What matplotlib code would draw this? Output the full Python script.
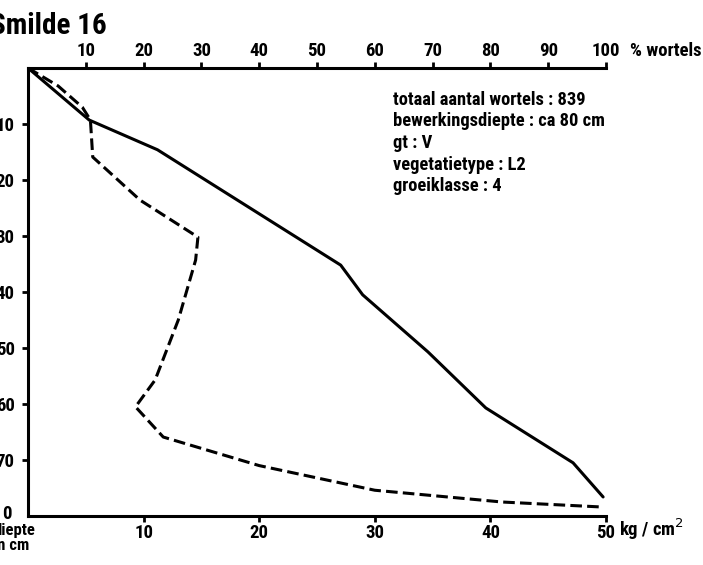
import matplotlib
matplotlib.use("Agg")
import matplotlib.pyplot as plt

plt.rcParams['font.family'] = ['Roboto Condensed', 'DejaVu Sans']

# cumulatief percentage wortels (bovenste as) tegen diepte
wortels_pct = [0, 10.6, 22.4, 54.1, 57.9, 69.2, 79.2, 94.3, 99.5]
wortels_diepte = [0, 9.3, 14.6, 35.2, 40.5, 50.7, 60.7, 70.5, 76.6]

# indringingsweerstand in kg/cm2 (onderste as) tegen diepte
weerstand_kg = [0, 2.6, 4.7, 5.4, 5.6, 9.7, 14.7, 14.5, 13.0, 11.0, 9.3,
                11.7, 20.0, 30.0, 41.0, 49.7]
weerstand_diepte = [0, 3.2, 7.0, 9.3, 15.9, 23.6, 30.2, 34.3, 45.0, 55.7, 60.5,
                    65.9, 71.0, 75.4, 77.5, 78.4]

kg_ticks = [10, 20, 30, 40, 50]
pct_ticks = [10, 20, 30, 40, 50, 60, 70, 80, 90, 100]
diepte_ticks = [10, 20, 30, 40, 50, 60, 70]

info = ["totaal aantal wortels : 839",
        "bewerkingsdiepte : ca 80 cm",
        "gt : V",
        "vegetatietype : L2",
        "groeiklasse : 4"]

W, H = 703, 565
fig = plt.figure(figsize=(W / 100, H / 100), dpi=100)
ax = fig.add_axes([28 / W, 49 / H, 578 / W, 448 / H])

ax.plot([p / 2 for p in wortels_pct], wortels_diepte, color='black', lw=2.2,
        solid_joinstyle='round', solid_capstyle='round')
ax.plot(weerstand_kg, weerstand_diepte, color='black', lw=2.2,
        dashes=(3.8, 1.7), dash_capstyle='butt')

ax.set_xlim(0, 50)
ax.set_ylim(80, 0)

for side in ('left', 'bottom', 'top'):
    ax.spines[side].set_linewidth(2.2)
ax.spines['right'].set_visible(False)

lbl = dict(fontsize=13.5, fontweight='bold')
ax.set_xticks(kg_ticks)
ax.set_xticklabels([str(t) for t in kg_ticks], **lbl)
ax.set_yticks(diepte_ticks)
ax.set_yticklabels([str(t) for t in diepte_ticks], **lbl)
ax.tick_params(axis='x', direction='out', length=4.5, width=2, pad=1.5)
ax.tick_params(axis='y', direction='out', length=4.5, width=2, pad=5)

top = ax.secondary_xaxis('top', functions=(lambda x: 2 * x, lambda x: x / 2))
top.set_xticks(pct_ticks)
top.set_xticklabels([str(t) for t in pct_ticks], **lbl)
top.tick_params(direction='out', length=4.5, width=2, pad=1.5)
top.spines['top'].set_visible(False)

# as-eenheden en hoeklabels
fig.text(630 / W, 1 - 51 / H, "% wortels", ha='left', va='center', **lbl)
fig.text(619 / W, 1 - 529 / H, "kg / cm$^2$", ha='left', va='center', **lbl)
fig.text(12 / W, 1 - 514 / H, "0", ha='right', va='center', **lbl)
fig.text(-7 / W, 1 - 538 / H, "diepte\nin cm", fontsize=12, fontweight='bold',
         ha='left', va='center', linespacing=0.95)

fig.text(-10 / W, 1 - 26 / H, "Smilde 16", fontsize=21, fontweight='bold',
         ha='left', va='center')

for i, regel in enumerate(info):
    fig.text(393 / W, 1 - (100 + 21.5 * i) / H, regel, fontsize=13.3,
             fontweight='bold', ha='left', va='center')

fig.savefig("out.png", dpi=100)
